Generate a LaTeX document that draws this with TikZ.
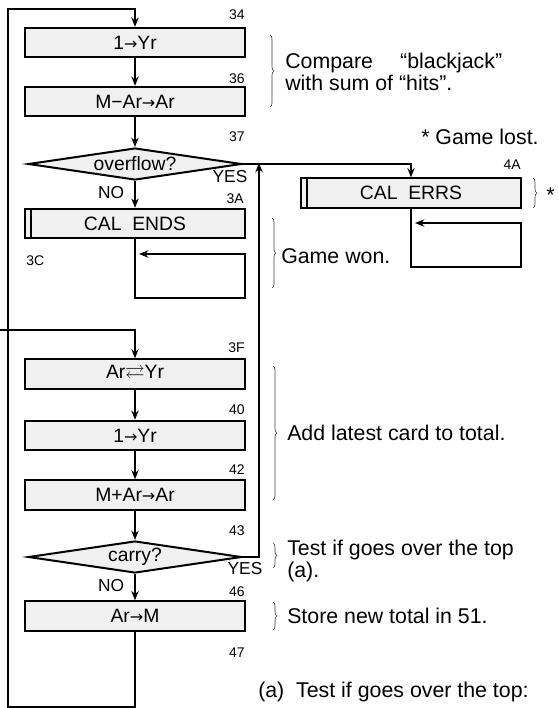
\documentclass[tikz,border=0pt]{standalone}
\usepackage{fontspec}
\usepackage{amssymb}
\setmainfont{Liberation Sans}
\newfontfamily\arrowfont{DejaVu Sans}
\newcommand\toarr{{\arrowfont\fontsize{12}{12}\selectfont →}}
\usetikzlibrary{arrows.meta, shapes.geometric, decorations.pathreplacing}

\tikzset{
  stepbox/.style={draw, line width=1.5pt, fill=gray!12, minimum width=165pt,
    minimum height=22pt, inner sep=0pt, font=\fontsize{14.5}{15}\selectfont},
  testbox/.style={diamond, draw, line width=1.5pt, fill=gray!12, aspect=6.7,
    minimum width=160pt, minimum height=24pt, inner sep=0pt,
    font=\fontsize{14.5}{15}\selectfont},
  addr/.style={font=\fontsize{10.5}{10.5}\selectfont, anchor=east, inner sep=0pt},
  yesno/.style={font=\fontsize{13}{13}\selectfont, inner sep=0pt},
  note/.style={font=\fontsize{16}{16}\selectfont, anchor=west, align=left, inner sep=0pt},
  flow/.style={line width=1.5pt},
  curly/.style={decorate, decoration={brace, amplitude=3pt}, line width=0.5pt, black!75},
}

\begin{document}
\begin{tikzpicture}[x=0.75pt, y=-0.75pt, >={Stealth[length=7pt,width=5.5pt]}]
\useasboundingbox (0,0) rectangle (558,708);

% main column
\node[stepbox] (b34) at (135,42.5) {1\toarr Yr};
\node[stepbox] (b36) at (135,101.5) {M−Ar\toarr Ar};
\node[testbox] (ovfl) at (135,164) {overflow?};
\node[stepbox] (ends) at (135,223.5) {CAL\ \ ENDS};
\node[stepbox] (errs) at (411,193) {CAL\ \ ERRS};
\node[stepbox] (b3F) at (135,374) {Ar$\rightleftarrows$Yr};
\node[stepbox] (b40) at (135,435.5) {1\toarr Yr};
\node[stepbox] (b42) at (135,495) {M+Ar\toarr Ar};
\node[testbox] (carry) at (135,557) {carry?};
\node[stepbox] (b46) at (135,616) {Ar\toarr M};

% call marks
\draw[flow] ([xshift=5pt]ends.north west) -- ([xshift=5pt]ends.south west);
\draw[flow] ([xshift=5pt]errs.north west) -- ([xshift=5pt]errs.south west);

% addresses
\node[addr] (a34) at (245,15) {34};
\node[addr] (a36) at (245,79) {36};
\node[addr] (a37) at (245,137) {37};
\node[addr] (a3A) at (244,199) {3A};
\node[addr, anchor=west] (a3C) at (26,261) {3C};
\node[addr] (a3F) at (245,348) {3F};
\node[addr] (a40) at (245,410) {40};
\node[addr] (a42) at (245,470) {42};
\node[addr] (a43) at (245,531) {43};
\node[addr] (a46) at (245,592) {46};
\node[addr] (a47) at (245,653) {47};
\node[addr] (a4A) at (521,165) {4A};

% connectors
\coordinate (topleft) at (8,9);
\coordinate (lowleft) at (8,707);
\coordinate (lowmid) at (135,707);
\coordinate (entry) at (0,330);
\coordinate (yesup) at (259,163);
\draw[flow,->] (b46.south) -- (lowmid) -- (lowleft) -- (topleft) -| (b34.north);
\draw[flow,->] (b34) -- (b36);
\draw[flow,->] (b36) -- (ovfl);
\draw[flow,->] (ovfl) -- (ends);
\draw[flow,->] (ovfl.east) -| (errs.north);
\draw[flow,->] (ends.south) |- (245,298) |- (139,254);
\draw[flow,->] (errs.south) |- (521,267) |- (415,223);
\draw[flow,->] (entry) -| (b3F.north);
\draw[flow,->] (b3F) -- (b40);
\draw[flow,->] (b40) -- (b42);
\draw[flow,->] (b42) -- (carry);
\draw[flow,->] (carry) -- (b46);
\draw[flow,->] (carry.east) -| (yesup);

\node[yesno] (no1) at (111,193) {NO};
\node[yesno] (yes1) at (230,177) {YES};
\node[yesno] (no2) at (111,586) {NO};
\node[yesno] (yes2) at (245,569) {YES};

% remarks
\draw[curly] (270,35) -- (270,107);
\node[note] (n1) at (285,72) {Compare\quad\ ``blackjack''\\with sum of ``hits''.};
\node[note] (lost) at (421,137) {* Game lost.};
\draw[curly] (533,178) -- (533,208);
\node[note] (star) at (546,195) {*};
\draw[curly] (272,218) -- (272,288);
\node[note] (won) at (281,256) {Game won.};
\draw[curly] (273,366) -- (273,500);
\node[note] (n3) at (287,433) {Add latest card to total.};
\draw[curly] (273,543) -- (273,568);
\node[note] (n4) at (287,561) {Test\ if\ goes over the top\\(a).};
\draw[curly] (273,602) -- (273,630);
\node[note] (n5) at (287,616) {Store new total in 51.};
\node[note] (fn) at (258,692) {(a)\ \ Test if goes over the top:};
\end{tikzpicture}
\end{document}
